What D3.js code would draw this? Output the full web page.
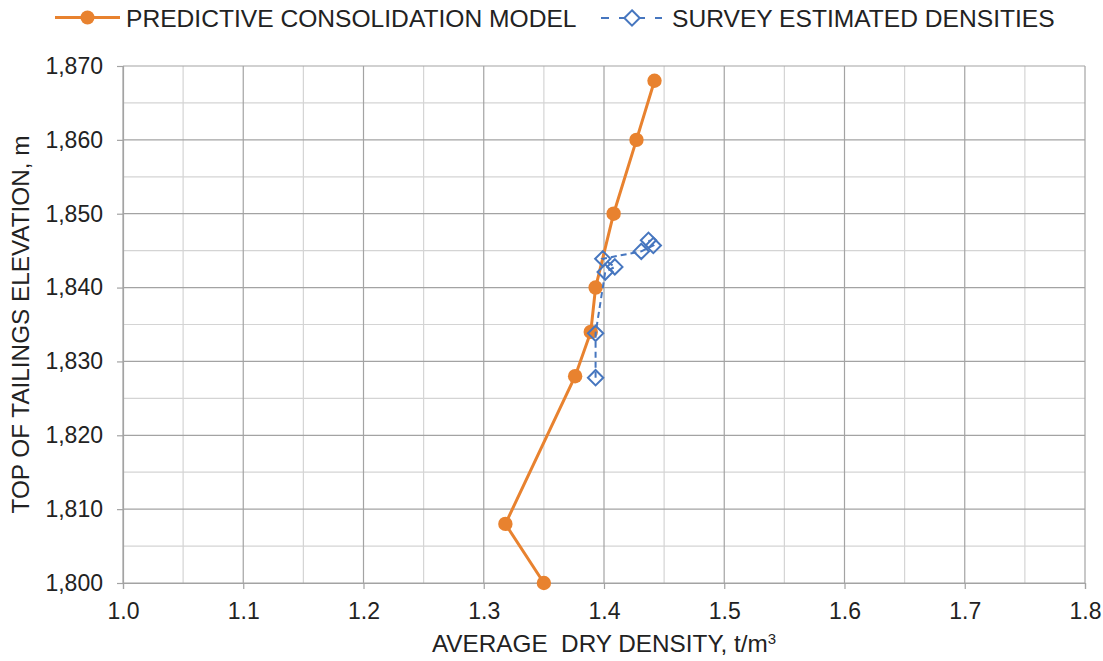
<!DOCTYPE html>
<html>
<head>
<meta charset="utf-8">
<script src="https://cdn.jsdelivr.net/npm/d3@7"></script>
<style>
  html, body { margin: 0; padding: 0; background: #fff; }
  svg { display: block; font-family: "Liberation Sans", Arial, sans-serif; }
</style>
</head>
<body>
<svg id="chart" width="1103" height="661"></svg>
<script>
// ---- data ----
const modelDensity = [1.350, 1.318, 1.376, 1.389, 1.393, 1.408, 1.427, 1.442];
const modelElevation = [1800, 1808, 1828, 1834, 1840, 1850, 1860, 1868];
const surveyDensity = [1.393, 1.393, 1.401, 1.409, 1.399, 1.431, 1.441, 1.437];
const surveyElevation = [1827.8, 1833.8, 1842.1, 1842.8, 1843.9, 1844.9, 1845.7, 1846.4];
const xTicks = [1.0, 1.1, 1.2, 1.3, 1.4, 1.5, 1.6, 1.7, 1.8];
const xMinorTicks = [1.05, 1.15, 1.25, 1.35, 1.45, 1.55, 1.65, 1.75];
const yTicks = [1800, 1810, 1820, 1830, 1840, 1850, 1860, 1870];
const yMinorTicks = [1805, 1815, 1825, 1835, 1845, 1855, 1865];
const seriesNames = ["PREDICTIVE CONSOLIDATION MODEL", "SURVEY ESTIMATED DENSITIES"];

const W = 1103, H = 661;
const margin = {left: 123, right: 18, top: 66, bottom: 78};
const orange = "#e8822f", blue = "#4676bf";

const svg = d3.select("#chart");
const x = d3.scaleLinear().domain([1.0, 1.8]).range([margin.left, W - margin.right]);
const y = d3.scaleLinear().domain([1800, 1870]).range([H - margin.bottom, margin.top]);

// gridlines
const grid = svg.append("g");
grid.selectAll("line.xminor").data(xMinorTicks).join("line")
  .attr("x1", d => x(d)).attr("x2", d => x(d))
  .attr("y1", y(1800)).attr("y2", y(1870))
  .attr("stroke", "#d4d4d4").attr("stroke-width", 1.2);
grid.selectAll("line.yminor").data(yMinorTicks).join("line")
  .attr("y1", d => y(d)).attr("y2", d => y(d))
  .attr("x1", x(1.0)).attr("x2", x(1.8))
  .attr("stroke", "#d4d4d4").attr("stroke-width", 1.2);
grid.selectAll("line.xmajor").data(xTicks).join("line")
  .attr("x1", d => x(d)).attr("x2", d => x(d))
  .attr("y1", y(1800)).attr("y2", y(1870))
  .attr("stroke", "#a3a3a3").attr("stroke-width", 1.2);
grid.selectAll("line.ymajor").data(yTicks).join("line")
  .attr("y1", d => y(d)).attr("y2", d => y(d))
  .attr("x1", x(1.0)).attr("x2", x(1.8))
  .attr("stroke", "#a3a3a3").attr("stroke-width", 1.2);

// axes
const xAxis = svg.append("g").attr("transform", `translate(0,${y(1800)})`)
  .call(d3.axisBottom(x).tickValues(xTicks).tickFormat(d3.format(".1f")).tickSize(6).tickPadding(14));
const yAxis = svg.append("g").attr("transform", `translate(${x(1.0)},0)`)
  .call(d3.axisLeft(y).tickValues(yTicks).tickFormat(d3.format(",")).tickSize(6).tickPadding(14));
[xAxis, yAxis].forEach(a => {
  a.select(".domain").attr("stroke", "#a3a3a3").attr("stroke-width", 1.2);
  a.selectAll(".tick line").attr("stroke", "#a3a3a3").attr("stroke-width", 1.2);
  a.selectAll(".tick text").attr("fill", "#222").style("font-size", "23px")
    .style("font-family", '"Liberation Sans", Arial, sans-serif');
});

// axis titles
const xt = svg.append("text").attr("x", (x(1.0) + x(1.8)) / 2).attr("y", 652)
  .attr("text-anchor", "middle").attr("fill", "#222").style("font-size", "24.3px");
xt.append("tspan").text("AVERAGE\u00a0\u00a0DRY DENSITY, t/m");
xt.append("tspan").text("3").attr("dy", -8).style("font-size", "15px");

svg.append("text")
  .attr("transform", `translate(29,${(y(1800) + y(1870)) / 2}) rotate(-90)`)
  .attr("text-anchor", "middle").attr("fill", "#222").style("font-size", "24.3px")
  .text("TOP OF TAILINGS ELEVATION, m");

// series
const modelPts = modelDensity.map((d, i) => [d, modelElevation[i]]);
const surveyPts = surveyDensity.map((d, i) => [d, surveyElevation[i]]);
const line = d3.line().x(d => x(d[0])).y(d => y(d[1]));

svg.append("path").datum(modelPts).attr("d", line)
  .attr("fill", "none").attr("stroke", orange).attr("stroke-width", 3);
svg.selectAll("circle.m").data(modelPts).join("circle")
  .attr("cx", d => x(d[0])).attr("cy", d => y(d[1])).attr("r", 7.2).attr("fill", orange);

svg.append("path").datum(surveyPts).attr("d", line)
  .attr("fill", "none").attr("stroke", blue).attr("stroke-width", 2).attr("stroke-dasharray", "6,4");
const diamond = d3.symbol().type(d3.symbolDiamond2).size(150);
svg.selectAll("path.s").data(surveyPts).join("path")
  .attr("d", diamond)
  .attr("transform", d => `translate(${x(d[0])},${y(d[1])})`)
  .attr("fill", "none").attr("stroke", blue).attr("stroke-width", 2);

// legend
const lg = svg.append("g");
lg.append("line").attr("x1", 55).attr("x2", 120).attr("y1", 17.5).attr("y2", 17.5)
  .attr("stroke", orange).attr("stroke-width", 3);
lg.append("circle").attr("cx", 87.5).attr("cy", 17.5).attr("r", 7).attr("fill", orange);
lg.append("text").attr("x", 126).attr("y", 27).attr("fill", "#222").style("font-size", "24.6px").text(seriesNames[0]);

lg.append("line").attr("x1", 601).attr("x2", 662).attr("y1", 18).attr("y2", 18)
  .attr("stroke", blue).attr("stroke-width", 2).attr("stroke-dasharray", "8,10");
lg.append("path").attr("d", diamond).attr("transform", "translate(632,18)")
  .attr("fill", "#fff").attr("stroke", blue).attr("stroke-width", 2);
lg.append("text").attr("x", 672).attr("y", 27).attr("fill", "#222").style("font-size", "24.6px").text(seriesNames[1]);
</script>
</body>
</html>
